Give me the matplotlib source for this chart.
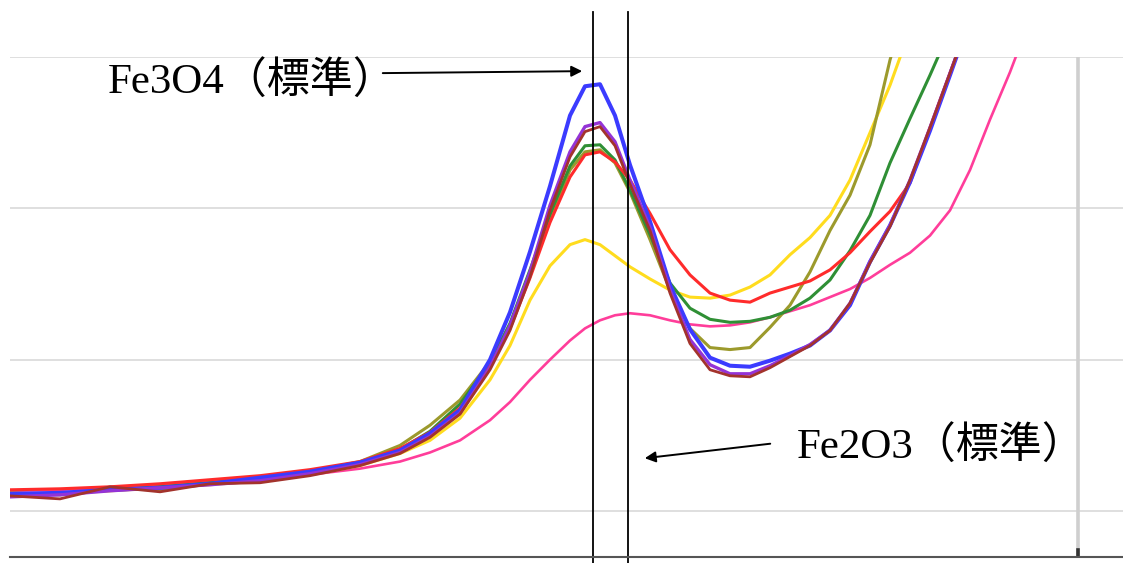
import matplotlib
matplotlib.use("Agg")
import matplotlib.pyplot as plt

# ==========================
# DATA
# ==========================

x = [10, 60, 110, 160, 210, 260, 310, 360, 400, 430, 460, 490, 510, 530, 550,
     570, 585, 600, 615, 630, 650, 670, 690, 710, 730, 750, 770, 790, 810, 830,
     850, 870, 890, 910, 930, 950, 970, 990, 1010, 1030]

blue = [17, 18, 21, 23, 27, 33, 39, 48, 60, 77, 100, 150, 197, 257, 322,
        392, 421, 423, 392, 343, 287, 224, 180, 152, 144, 143, 149, 156, 164, 179,
        204, 247, 283, 326, 377, 432, 488, 545, 604, 663]

purple = [14, 16, 20, 23, 26, 30, 37, 46, 58, 74, 97, 142, 184, 237, 303,
          356, 381, 385, 366, 328, 281, 219, 170, 145, 136, 136, 144, 154, 165, 179,
          206, 247, 283, 328, 380, 434, 488, 545, 604, 663]

darkred = [15, 12, 24, 19, 27, 28, 35, 45, 57, 73, 96, 140, 179, 232, 298,
           351, 376, 381, 362, 324, 278, 216, 166, 140, 134, 133, 142, 153, 164, 179,
           206, 246, 282, 328, 380, 434, 488, 545, 604, 663]

red = [21, 22, 24, 27, 31, 35, 41, 49, 62, 78, 102, 144, 181, 231, 286,
       331, 353, 356, 346, 328, 295, 259, 234, 216, 209, 207, 216, 222, 228, 239,
       256, 277, 297, 325, 380, 434, 488, 545, 604, 663]

green = [17, 17, 21, 24, 28, 32, 38, 48, 61, 79, 106, 147, 186, 239, 294,
         342, 362, 363, 348, 318, 274, 226, 201, 190, 187, 188, 192, 199, 211, 229,
         258, 293, 345, 389, 432, 477, 526, 575, 625, 675]

olive = [18, 16, 22, 21, 27, 31, 39, 49, 65, 85, 110, 148, 184, 234, 290,
         338, 356, 358, 345, 316, 269, 219, 181, 162, 160, 162, 182, 204, 237, 278,
         313, 363, 447, 516, 595, 675, 755, 835, 915, 995]

yellow = [16, 17, 20, 23, 26, 30, 36, 45, 57, 70, 92, 130, 164, 209, 243,
          264, 269, 264, 253, 242, 230, 219, 212, 211, 214, 222, 234, 254, 271, 293,
          328, 375, 422, 477, 535, 595, 655, 715, 775, 835]

pink = [20, 21, 23, 26, 29, 33, 36, 42, 49, 58, 70, 90, 108, 130, 150,
        169, 181, 189, 194, 196, 194, 189, 185, 183, 184, 187, 192, 198, 204, 212,
        220, 231, 244, 256, 273, 298, 338, 388, 435, 487]

series = [
    (pink, "#ff3d9a", 1.9),
    (yellow, "#ffdc1e", 2.2),
    (olive, "#9c9a2c", 2.2),
    (green, "#2f8f35", 2.2),
    (red, "#ff2b2b", 2.2),
    (blue, "#3b3bff", 2.9),
    (purple, "#9433d6", 2.4),
    (darkred, "#a3332c", 2.0),
]

FE3O4_X = 593
FE2O3_X = 628
RIGHT_LINE_X = 1078

# ==========================
# FIGURE
# ==========================

fig = plt.figure(figsize=(11.23, 5.63), dpi=100)
ax = fig.add_axes([10 / 1123, 6 / 563, 1113 / 1123, 500 / 563])

for values, color, lw in series:
    ax.plot(x, values, color=color, lw=lw, solid_joinstyle="round")

ax.set_xlim(10, 1123)
ax.set_ylim(-45.6, 450)
ax.set_yticks([0, 150, 300, 450])
ax.set_xticks([])
ax.tick_params(left=False, labelleft=False)
ax.grid(axis="y", color="#d9d9d9", lw=1.2)
ax.set_axisbelow(True)

for side in ["top", "left", "right"]:
    ax.spines[side].set_visible(False)
ax.spines["bottom"].set_color("#555555")
ax.spines["bottom"].set_linewidth(1.5)

# reference lines
ax.axvline(RIGHT_LINE_X, color="#cfcfcf", lw=2.6)
ax.axvline(RIGHT_LINE_X, ymin=0, ymax=0.014, color="#333333", lw=2.6)
for xv in [FE3O4_X, FE2O3_X]:
    ax.axvline(xv, ymin=-0.012, ymax=1.09, color="black", lw=1.3, clip_on=False)

# ==========================
# LABELS
# ==========================

font = ["Liberation Serif", "Noto Sans CJK JP"]

ax.text(108, 425, "Fe3O4（標準）", family=font, fontsize=31,
        ha="left", va="center")
ax.annotate("", xy=(585, 436), xytext=(380, 434),
            arrowprops=dict(arrowstyle="-|>", color="black", lw=1.4,
                            mutation_scale=16),
            annotation_clip=False)

ax.text(797, 63, "Fe2O3（標準）", family=font, fontsize=31,
        ha="left", va="center")
ax.annotate("", xy=(642, 52), xytext=(773, 67),
            arrowprops=dict(arrowstyle="-|>", color="black", lw=1.4,
                            mutation_scale=16),
            annotation_clip=False)

fig.savefig("out.png", dpi=100)
